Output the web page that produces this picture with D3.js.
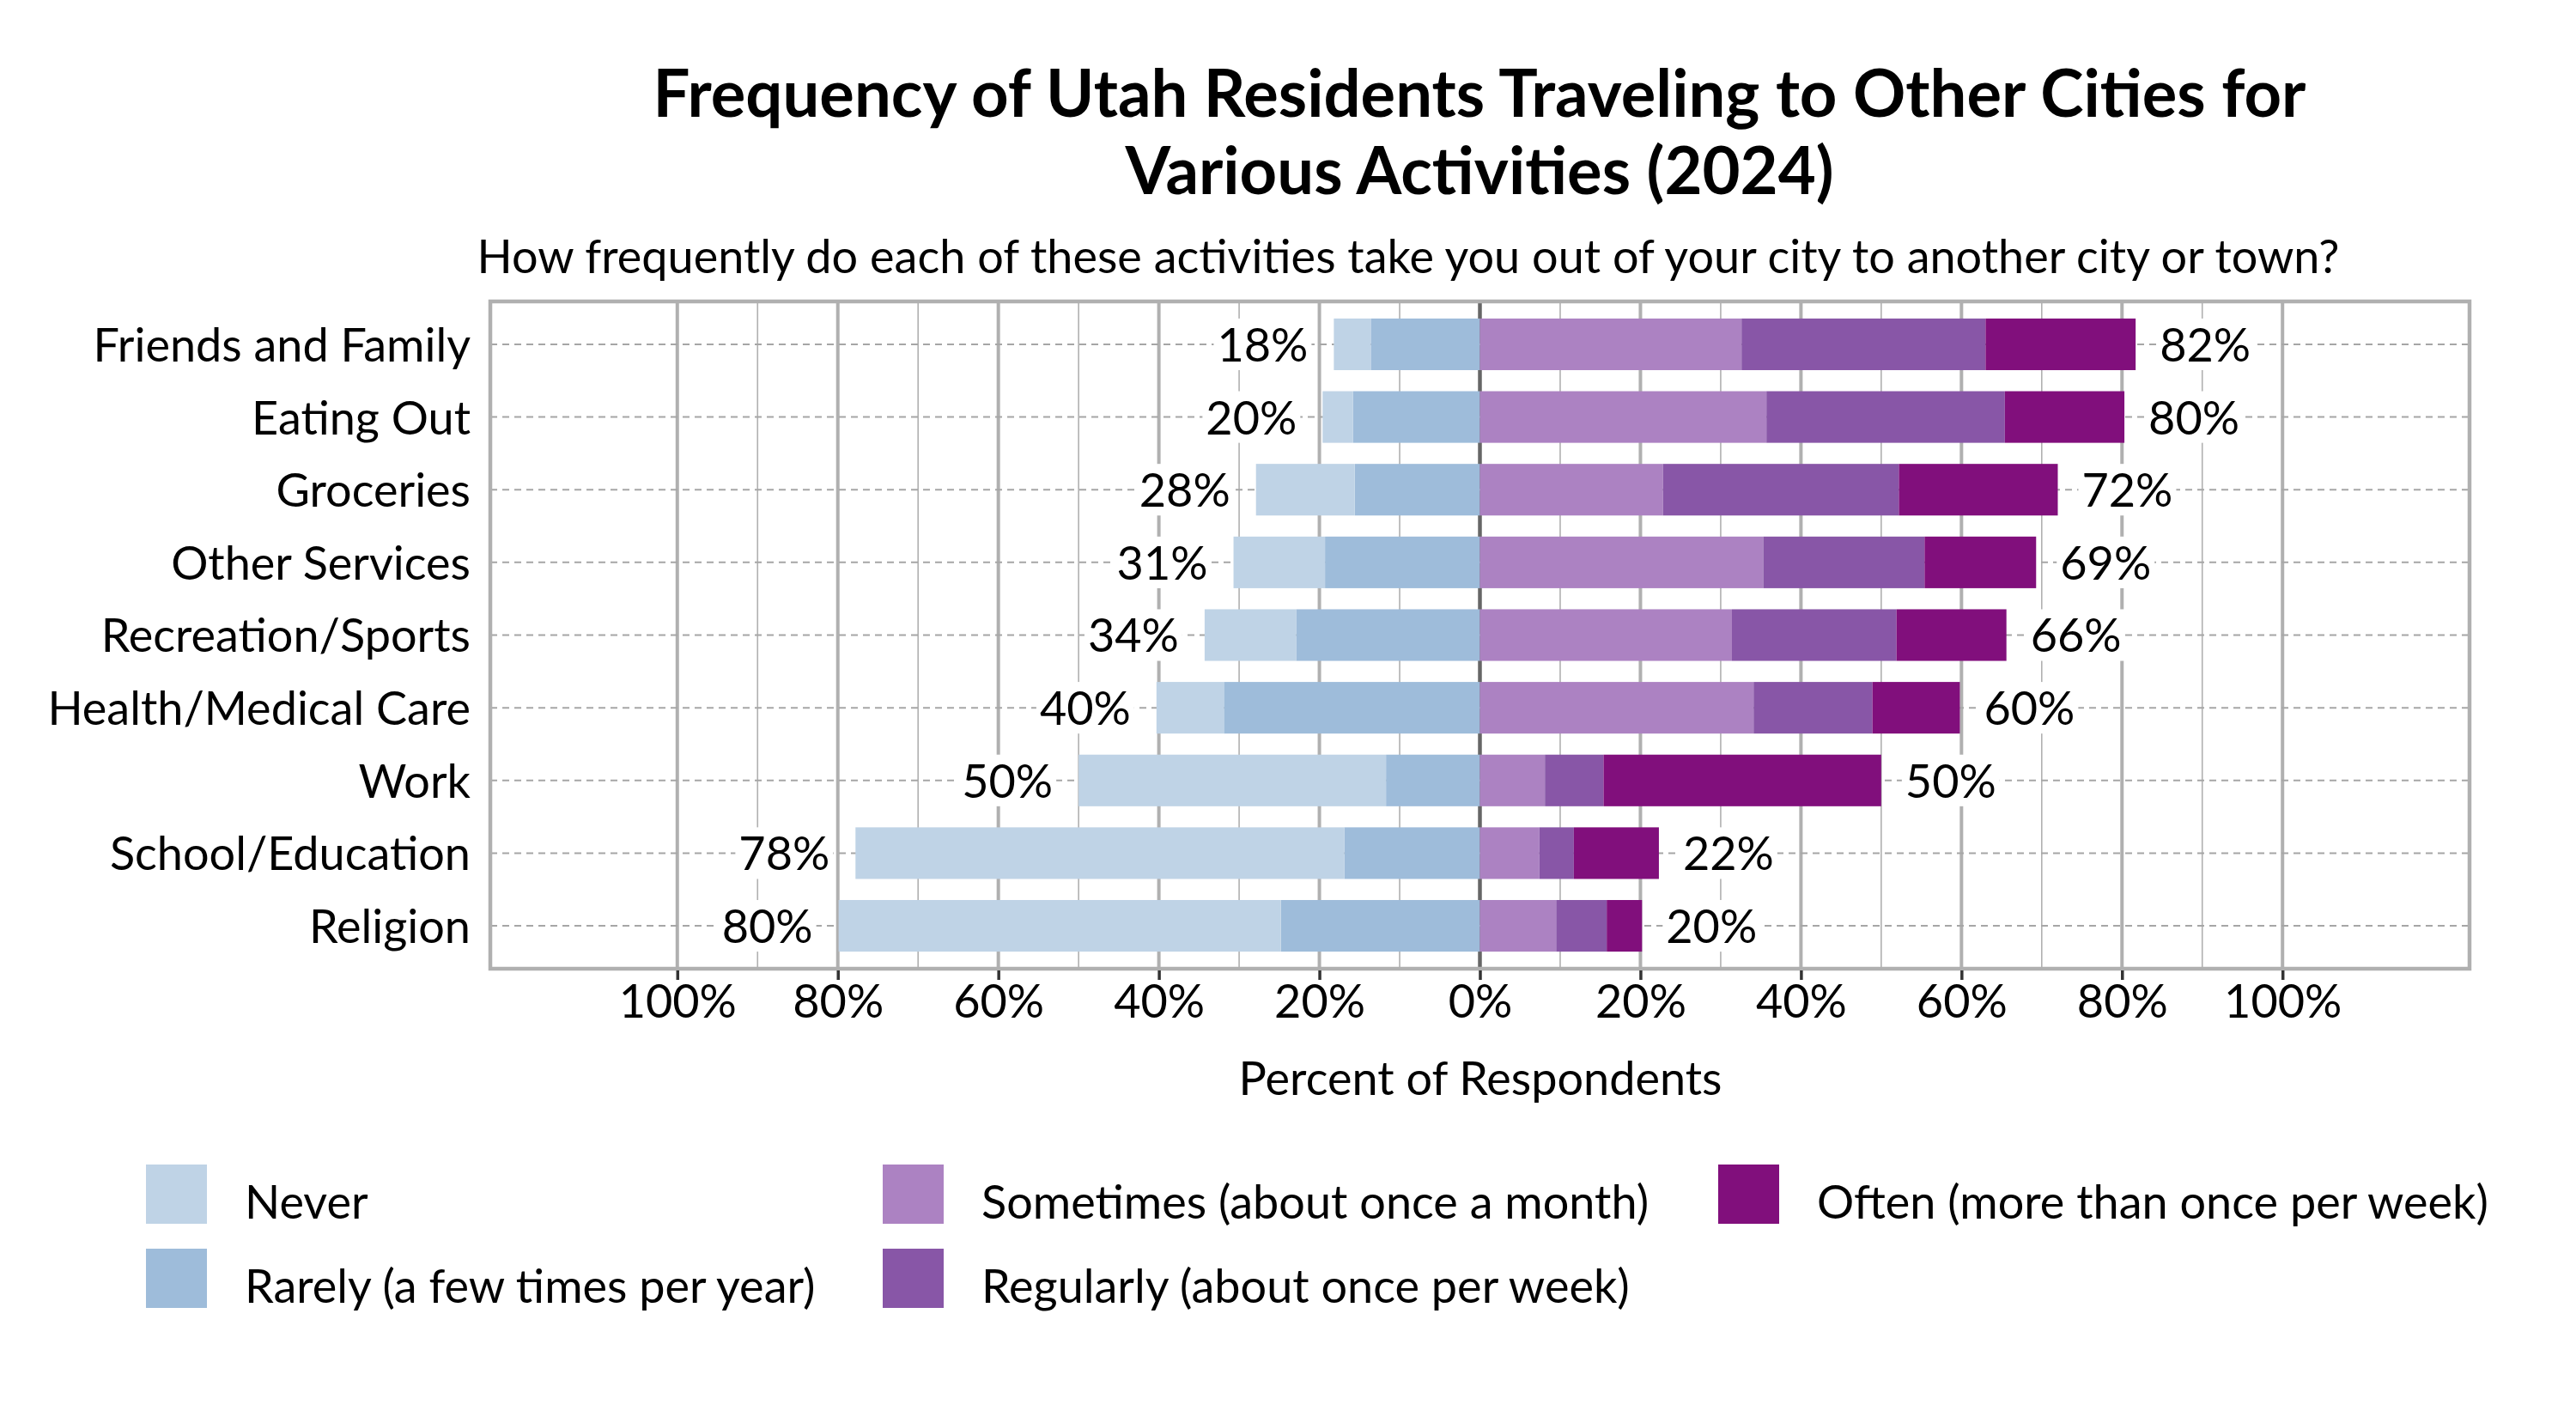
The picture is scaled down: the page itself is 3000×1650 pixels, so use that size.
<!DOCTYPE html>
<html>
<head>
<meta charset="utf-8">
<script src="https://cdn.jsdelivr.net/npm/d3@7"></script>
<style>
    body { margin: 0; background: #fff; }
    svg { display: block; font-family: Lato, sans-serif; }
</style>
</head>
<body>
<div id="chart"></div>
<script>
// Chart data (percent of respondents)
var categories = ['Friends and Family', 'Eating Out', 'Groceries', 'Other Services', 'Recreation/Sports',
                  'Health/Medical Care', 'Work', 'School/Education', 'Religion'];
var never     = [4.6, 3.8, 12.3, 11.4, 11.4, 8.4, 38.3, 60.9, 55.1];
var rarely    = [13.6, 15.8, 15.6, 19.3, 22.9, 31.9, 11.7, 16.9, 24.8];
var sometimes = [32.6, 35.7, 22.8, 35.3, 31.4, 34.1, 8.1, 7.4, 9.5];
var regularly = [30.4, 29.7, 29.4, 20.1, 20.5, 14.8, 7.3, 4.3, 6.3];
var often     = [18.7, 14.9, 19.8, 13.9, 13.7, 10.9, 34.6, 10.6, 4.4];

var seriesNames = ['Never', 'Rarely (a few times per year)', 'Sometimes (about once a month)',
                   'Regularly (about once per week)', 'Often (more than once per week)'];
var seriesColors = ['#bfd3e6', '#9ebcda', '#ac82c2', '#8856a7', '#810f7c'];
var tickValues = [-100, -80, -60, -40, -20, 0, 20, 40, 60, 80, 100];
var tickLabels = ['100%', '80%', '60%', '40%', '20%', '0%', '20%', '40%', '60%', '80%', '100%'];

var title = ['Frequency of Utah Residents Traveling to Other Cities for', 'Various Activities (2024)'];
var subtitle = 'How frequently do each of these activities take you out of your city to another city or town?';
var xTitle = 'Percent of Respondents';

// Layout
var width = 3000, height = 1650;
var plot = {left: 571, right: 2876, top: 351, bottom: 1128};
var fontSize = '54px';

var svg = d3.select('#chart').append('svg')
    .attr('width', width)
    .attr('height', height);

// Scales
var x = d3.scaleLinear().domain([-123.3, 123.3]).range([plot.left, plot.right]);
var y = d3.scaleBand().domain(categories).range([plot.top, plot.bottom])
    .paddingInner(0.29).paddingOuter(0.235);

// Build stacked rows: negative side grows left from 0, positive side grows right
var rows = categories.map(function(c, i) {
    var segs = [];
    segs.push({cat: c, x0: -rarely[i], x1: 0, k: 1});
    segs.push({cat: c, x0: -(rarely[i] + never[i]), x1: -rarely[i], k: 0});
    var p = 0;
    [sometimes[i], regularly[i], often[i]].forEach(function(v, j) {
        segs.push({cat: c, x0: p, x1: p + v, k: j + 2});
        p += v;
    });
    return {cat: c, segs: segs, neg: rarely[i] + never[i], pos: p};
});

// Vertical grid lines
var grid = d3.range(-100, 101, 10);
svg.append('g').selectAll('line')
    .data(grid)
    .enter()
    .append('line')
        .attr('x1', function(d) { return x(d); })
        .attr('x2', function(d) { return x(d); })
        .attr('y1', plot.top)
        .attr('y2', plot.bottom)
        .attr('stroke', function(d) { return d === 0 ? '#666' : '#b0b0b0'; })
        .attr('stroke-width', function(d) { return d === 0 ? 4.5 : (d % 20 === 0 ? 4 : 1.6); });

// Horizontal dashed lines at each category
svg.append('g').selectAll('line')
    .data(categories)
    .enter()
    .append('line')
        .attr('x1', plot.left)
        .attr('x2', plot.right)
        .attr('y1', function(d) { return y(d) + y.bandwidth() / 2; })
        .attr('y2', function(d) { return y(d) + y.bandwidth() / 2; })
        .attr('stroke', '#a6a6a6')
        .attr('stroke-width', 2)
        .attr('stroke-dasharray', '8,6');

// Bars
svg.append('g').selectAll('g')
    .data(rows)
    .enter()
    .append('g')
    .selectAll('rect')
    .data(function(d) { return d.segs; })
    .enter()
    .append('rect')
        .attr('x', function(d) { return x(d.x0); })
        .attr('y', function(d) { return y(d.cat); })
        .attr('width', function(d) { return x(d.x1) - x(d.x0); })
        .attr('height', y.bandwidth())
        .attr('fill', function(d) { return seriesColors[d.k]; });

// Total labels with white boxes behind
var labels = svg.append('g');
rows.forEach(function(r) {
    var cy = y(r.cat) + y.bandwidth() / 2;
    [{v: r.neg, side: -1}, {v: r.pos, side: 1}].forEach(function(l) {
        var g = labels.append('g');
        var t = g.append('text')
            .attr('x', l.side < 0 ? x(-l.v) - 30 : x(l.v) + 28)
            .attr('y', cy)
            .attr('dy', '0.37em')
            .attr('text-anchor', l.side < 0 ? 'end' : 'start')
            .style('font-size', fontSize)
            .text(Math.round(l.v) + '%');
        var b = t.node().getBBox();
        g.insert('rect', 'text')
            .attr('x', b.x - 4)
            .attr('y', cy - y.bandwidth() / 2)
            .attr('width', b.width + 8)
            .attr('height', y.bandwidth())
            .attr('fill', '#fff');
    });
});

// Plot border
svg.append('rect')
    .attr('x', plot.left)
    .attr('y', plot.top)
    .attr('width', plot.right - plot.left)
    .attr('height', plot.bottom - plot.top)
    .attr('fill', 'none')
    .attr('stroke', '#b0b0b0')
    .attr('stroke-width', 4.5);

// X axis
var xAxis = d3.axisBottom(x)
    .tickValues(tickValues)
    .tickFormat(function(d, i) { return tickLabels[i]; })
    .tickSize(11)
    .tickSizeOuter(0);
var gx = svg.append('g')
    .attr('transform', 'translate(0,' + (plot.bottom + 2) + ')')
    .call(xAxis);
gx.select('.domain').remove();
gx.selectAll('line').attr('stroke', '#333').attr('stroke-width', 3.5);
gx.selectAll('text')
    .attr('y', 55)
    .attr('dy', null)
    .attr('fill', '#000')
    .style('font-size', fontSize)
    .style('font-family', 'Lato, sans-serif');

// Y axis (category labels)
var yAxis = d3.axisLeft(y).tickSize(0).tickPadding(23);
var gy = svg.append('g')
    .attr('transform', 'translate(' + plot.left + ',0)')
    .call(yAxis);
gy.select('.domain').remove();
gy.selectAll('text')
    .attr('dy', '0.37em')
    .attr('fill', '#000')
    .style('font-size', fontSize)
    .style('font-family', 'Lato, sans-serif');

// Title and subtitle
svg.append('g').selectAll('text')
    .data(title)
    .enter()
    .append('text')
        .attr('x', 1723)
        .attr('y', function(d, i) { return 136 + i * 90; })
        .attr('text-anchor', 'middle')
        .style('font-size', '76px')
        .style('font-weight', 'bold')
        .text(function(d) { return d; });

svg.append('text')
    .attr('x', 1640)
    .attr('y', 318)
    .attr('text-anchor', 'middle')
    .style('font-size', fontSize)
    .text(subtitle);

// Label for the x axis
svg.append('text')
    .attr('x', 1724)
    .attr('y', 1275)
    .attr('text-anchor', 'middle')
    .style('font-size', fontSize)
    .text(xTitle);

// Legend (column-major, 2 rows)
var legendCols = [170, 1028, 2001];
var legendRows = [1356, 1454];
var legend = svg.append('g').selectAll('g')
    .data(seriesNames)
    .enter()
    .append('g')
        .attr('transform', function(d, i) {
            return 'translate(' + legendCols[Math.floor(i / 2)] + ',' + legendRows[i % 2] + ')';
        });
legend.append('rect')
    .attr('width', 71)
    .attr('height', 69)
    .attr('fill', function(d, i) { return seriesColors[i]; });
legend.append('text')
    .attr('x', 115)
    .attr('y', 63)
    .style('font-size', fontSize)
    .text(function(d) { return d; });
</script>
</body>
</html>
